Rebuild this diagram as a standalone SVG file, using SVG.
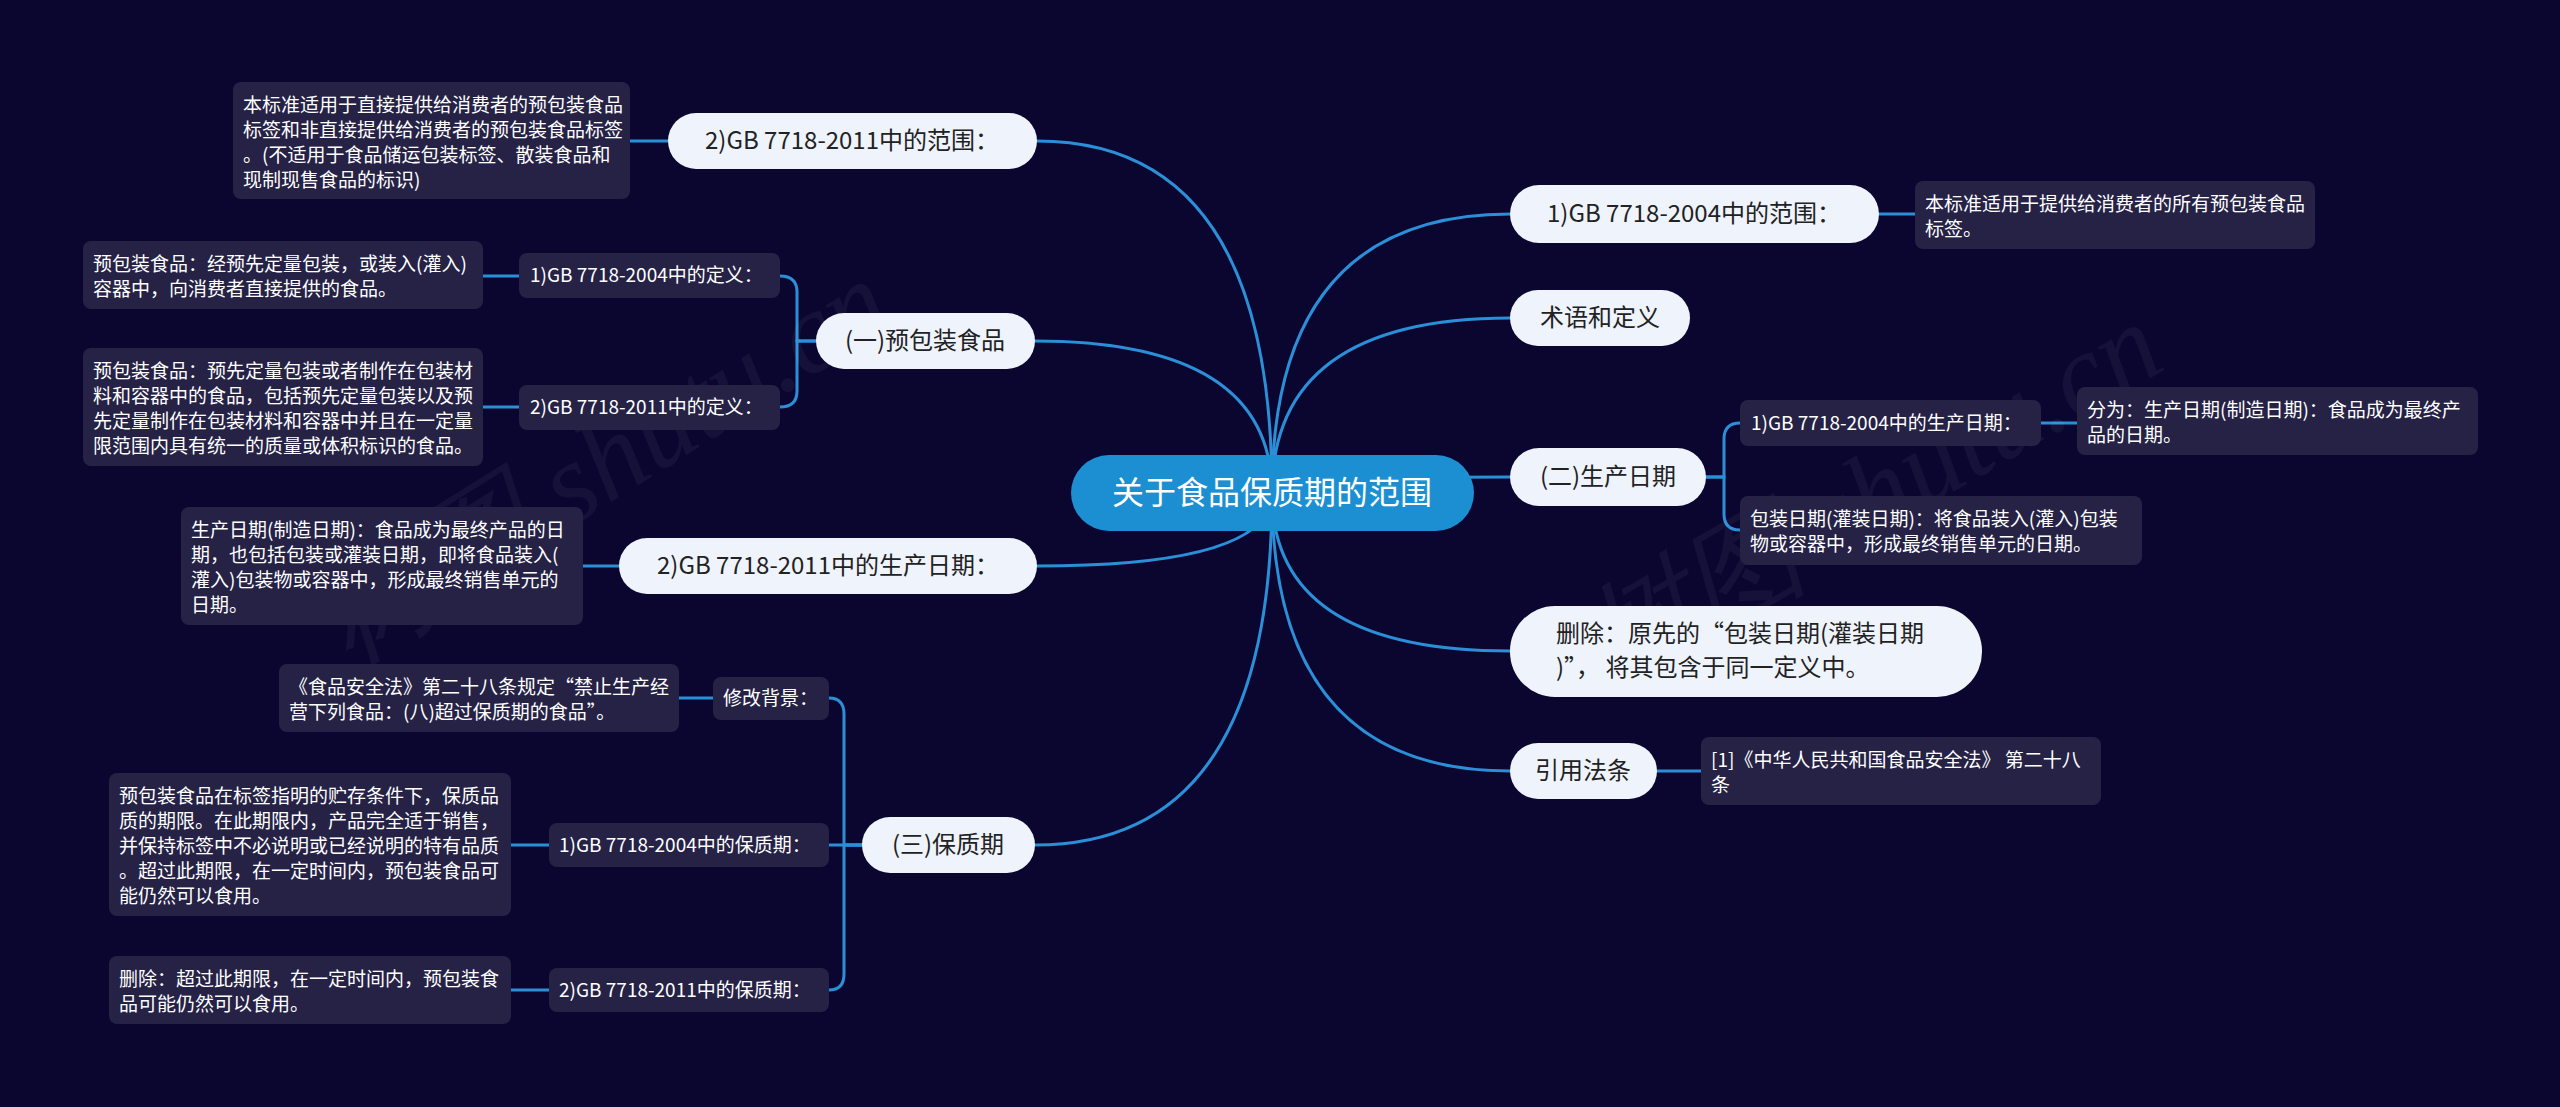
<svg xmlns="http://www.w3.org/2000/svg" width="2560" height="1107" viewBox="0 0 2560 1107">
<style>
text{font-family:"Noto Sans CJK SC","Noto Sans",sans-serif;}
.bg{fill:#0a0630;}
.root rect{fill:#1c8fd3;}
.root text{fill:#ffffff;font-size:32px;text-anchor:middle;}
.pill rect{fill:#eef3fc;}
.pill text{fill:#222222;font-size:24px;text-anchor:middle;}
.pill text.l{text-anchor:start;}
.lab rect{fill:#252246;}
.lab text{fill:#ffffff;font-size:19px;}
.box rect{fill:#252246;}
.box text{fill:#ffffff;font-size:19px;}
.conn path{fill:none;stroke:#2b8fd8;stroke-width:3;stroke-linecap:round;}
.wm{fill:#ffffff;opacity:0.045;font-family:"Liberation Serif",serif;font-style:italic;font-size:115px;}
</style>
<rect class="bg" x="0" y="0" width="2560" height="1107"/>

<g id="connectors" class="conn">
  <path d="M1272 493 Q1272 141 1037 141"/>
  <path d="M1272 493 Q1272 341 1035 341"/>
  <path d="M1272 493 Q1272 566 1037 566"/>
  <path d="M1272 493 Q1272 845 1035 845"/>
  <path d="M1272 493 Q1272 214 1510 214"/>
  <path d="M1272 493 Q1272 318 1510 318"/>
  <path d="M1272 493 Q1272 477 1510 477"/>
  <path d="M1272 493 Q1272 651 1510 651"/>
  <path d="M1272 493 Q1272 771 1510 771"/>
  <path d="M816 341 H797 V292 Q797 276 780 276"/>
  <path d="M816 341 H797 V391 Q797 407 780 407"/>
  <path d="M862 845 H844 V714 Q844 698 829 698"/>
  <path d="M862 845 H829"/>
  <path d="M862 845 H844 V974 Q844 990 829 990"/>
  <path d="M1706 477 H1724 V439 Q1724 423 1740 423"/>
  <path d="M1706 477 H1724 V514 Q1724 530 1740 530"/>
  <path d="M668 141 H630"/>
  <path d="M519 276 H483"/>
  <path d="M519 407 H483"/>
  <path d="M619 566 H583"/>
  <path d="M713 698 H679"/>
  <path d="M549 845 H511"/>
  <path d="M549 990 H511"/>
  <path d="M1879 214 H1915"/>
  <path d="M2041 423 H2077"/>
  <path d="M1657 771 H1701"/>
</g>

<text class="wm" transform="translate(350 665) rotate(-32)">树图 shutu.cn</text>
<text class="wm" transform="translate(1610 690) rotate(-30)">树图 shutu.cn</text>

<g id="root" class="root">
  <rect x="1071" y="455" width="403" height="76" rx="38"/>
  <text x="1272" y="504">关于食品保质期的范围</text>
</g>

<g id="n-gb2011-scope" class="pill">
  <rect x="668" y="113" width="369" height="56" rx="28"/>
  <text x="852" y="149">2)GB 7718-2011中的范围：</text>
</g>
<g id="n-prepack" class="pill">
  <rect x="816" y="313" width="219" height="56" rx="28"/>
  <text x="925" y="349">(一)预包装食品</text>
</g>
<g id="n-gb2011-date" class="pill">
  <rect x="619" y="538" width="418" height="56" rx="28"/>
  <text x="828" y="574">2)GB 7718-2011中的生产日期：</text>
</g>
<g id="n-shelf" class="pill">
  <rect x="862" y="817" width="173" height="56" rx="28"/>
  <text x="948" y="853">(三)保质期</text>
</g>

<g id="n-gb2004-scope" class="pill">
  <rect x="1510" y="185" width="369" height="58" rx="29"/>
  <text x="1694" y="222">1)GB 7718-2004中的范围：</text>
</g>
<g id="n-terms" class="pill">
  <rect x="1510" y="290" width="180" height="56" rx="28"/>
  <text x="1600" y="326">术语和定义</text>
</g>
<g id="n-proddate" class="pill">
  <rect x="1510" y="448" width="196" height="58" rx="29"/>
  <text x="1608" y="485">(二)生产日期</text>
</g>
<g id="n-delete" class="pill">
  <rect x="1510" y="606" width="472" height="91" rx="45"/>
  <text class="l" x="1556" y="642">删除：原先的“包装日期(灌装日期</text>
  <text class="l" x="1556" y="676">)”， 将其包含于同一定义中。</text>
</g>
<g id="n-cite" class="pill">
  <rect x="1510" y="743" width="147" height="56" rx="28"/>
  <text x="1583" y="779">引用法条</text>
</g>

<g id="n-def2004" class="lab">
  <rect x="519" y="253" width="261" height="45" rx="8"/>
  <text x="530" y="282">1)GB 7718-2004中的定义：</text>
</g>
<g id="n-def2011" class="lab">
  <rect x="519" y="385" width="261" height="45" rx="8"/>
  <text x="530" y="414">2)GB 7718-2011中的定义：</text>
</g>
<g id="n-background" class="lab">
  <rect x="713" y="677" width="116" height="43" rx="8"/>
  <text x="723" y="705">修改背景：</text>
</g>
<g id="n-shelf2004" class="lab">
  <rect x="549" y="823" width="280" height="44" rx="8"/>
  <text x="559" y="852">1)GB 7718-2004中的保质期：</text>
</g>
<g id="n-shelf2011" class="lab">
  <rect x="549" y="968" width="280" height="44" rx="8"/>
  <text x="559" y="997">2)GB 7718-2011中的保质期：</text>
</g>
<g id="n-date2004" class="lab">
  <rect x="1740" y="400" width="301" height="46" rx="8"/>
  <text x="1751" y="430">1)GB 7718-2004中的生产日期：</text>
</g>

<g id="t-scope2011" class="box">
  <rect x="233" y="82" width="397" height="117" rx="8"/>
  <text x="243" y="112">本标准适用于直接提供给消费者的预包装食品</text>
  <text x="243" y="137">标签和非直接提供给消费者的预包装食品标签</text>
  <text x="243" y="162">。(不适用于食品储运包装标签、散装食品和</text>
  <text x="243" y="187">现制现售食品的标识)</text>
</g>
<g id="t-def2004" class="box">
  <rect x="83" y="241" width="400" height="68" rx="8"/>
  <text x="93" y="271">预包装食品：经预先定量包装，或装入(灌入)</text>
  <text x="93" y="296">容器中，向消费者直接提供的食品。</text>
</g>
<g id="t-def2011" class="box">
  <rect x="83" y="348" width="400" height="118" rx="8"/>
  <text x="93" y="378">预包装食品：预先定量包装或者制作在包装材</text>
  <text x="93" y="403">料和容器中的食品，包括预先定量包装以及预</text>
  <text x="93" y="428">先定量制作在包装材料和容器中并且在一定量</text>
  <text x="93" y="453">限范围内具有统一的质量或体积标识的食品。</text>
</g>
<g id="t-date2011" class="box">
  <rect x="181" y="507" width="402" height="118" rx="8"/>
  <text x="191" y="537">生产日期(制造日期)：食品成为最终产品的日</text>
  <text x="191" y="562">期，也包括包装或灌装日期，即将食品装入(</text>
  <text x="191" y="587">灌入)包装物或容器中，形成最终销售单元的</text>
  <text x="191" y="612">日期。</text>
</g>
<g id="t-background" class="box">
  <rect x="279" y="664" width="400" height="68" rx="8"/>
  <text x="289" y="694">《食品安全法》第二十八条规定“禁止生产经</text>
  <text x="289" y="719">营下列食品：(八)超过保质期的食品”。</text>
</g>
<g id="t-shelf2004" class="box">
  <rect x="109" y="773" width="402" height="143" rx="8"/>
  <text x="119" y="803">预包装食品在标签指明的贮存条件下，保质品</text>
  <text x="119" y="828">质的期限。在此期限内，产品完全适于销售，</text>
  <text x="119" y="853">并保持标签中不必说明或已经说明的特有品质</text>
  <text x="119" y="878">。超过此期限，在一定时间内，预包装食品可</text>
  <text x="119" y="903">能仍然可以食用。</text>
</g>
<g id="t-shelf2011" class="box">
  <rect x="109" y="956" width="402" height="68" rx="8"/>
  <text x="119" y="986">删除：超过此期限，在一定时间内，预包装食</text>
  <text x="119" y="1011">品可能仍然可以食用。</text>
</g>
<g id="t-scope2004" class="box">
  <rect x="1915" y="181" width="400" height="68" rx="8"/>
  <text x="1925" y="211">本标准适用于提供给消费者的所有预包装食品</text>
  <text x="1925" y="236">标签。</text>
</g>
<g id="t-date2004" class="box">
  <rect x="2077" y="387" width="401" height="68" rx="8"/>
  <text x="2087" y="417">分为：生产日期(制造日期)：食品成为最终产</text>
  <text x="2087" y="442">品的日期。</text>
</g>
<g id="n-packdate" class="box">
  <rect x="1740" y="496" width="402" height="69" rx="8"/>
  <text x="1750" y="526">包装日期(灌装日期)：将食品装入(灌入)包装</text>
  <text x="1750" y="551">物或容器中，形成最终销售单元的日期。</text>
</g>
<g id="t-cite" class="box">
  <rect x="1701" y="737" width="400" height="68" rx="8"/>
  <text x="1711" y="767">[1]《中华人民共和国食品安全法》 第二十八</text>
  <text x="1711" y="792">条</text>
</g>
</svg>
